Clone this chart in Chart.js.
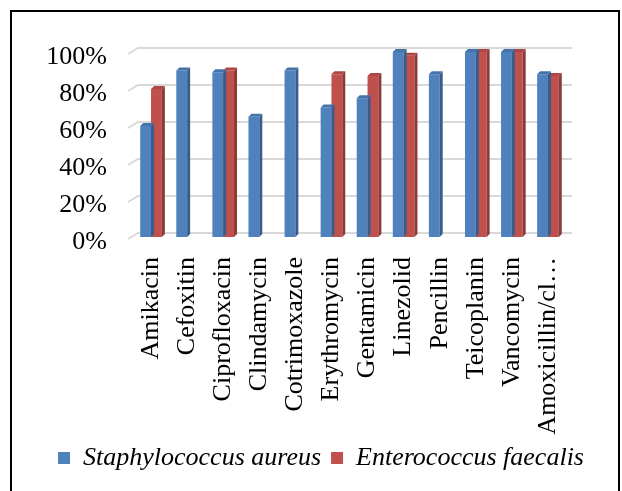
<!DOCTYPE html>
<html>
<head>
<meta charset="utf-8">
<script src="https://cdn.jsdelivr.net/npm/chart.js@4.4.1/dist/chart.umd.min.js"></script>
<style>
  html, body { margin: 0; padding: 0; background: #fff; }
  canvas { display: block; }
</style>
</head>
<body>
<canvas id="chart" width="622" height="491"></canvas>
<script>
// ================= DATA =================
const drugs = ["Amikacin", "Cefoxitin", "Ciprofloxacin", "Clindamycin", "Cotrimoxazole",
  "Erythromycin", "Gentamicin", "Linezolid", "Pencillin", "Teicoplanin", "Vancomycin",
  "Amoxicillin/cl…"];
const staphValues = [60, 90, 89, 65, 90, 70, 75, 100, 88, 100, 100, 88];
const enteroValues = [80, null, 90, null, null, 88, 87, 98, null, 100, 100, 87];
const yTicks = [0, 20, 40, 60, 80, 100];

const BLUE = "#4F81BD", RED = "#C0504D";
const faces = {
  0: { side: "#385D8A", top: "#4473AA" },
  1: { side: "#8C3A37", top: "#AE4743" }
};

// ================= 3D LOOK =================
// back wall gridlines with the little floor slant
const wallPlugin = {
  id: "wall",
  beforeDatasetsDraw(chart) {
    const { ctx, chartArea } = chart;
    const y = chart.scales.y;
    ctx.save();
    ctx.strokeStyle = "#D9D9D9";
    ctx.lineWidth = 2;
    yTicks.forEach(v => {
      const py = Math.round(y.getPixelForValue(v)) - 4;
      ctx.beginPath();
      ctx.moveTo(chartArea.left - 5, py + 6);
      ctx.lineTo(chartArea.left + 5, py);
      ctx.lineTo(chartArea.right + 6, py);
      ctx.stroke();
    });
    ctx.restore();
  }
};

// side + top faces for every bar, drawn right after its dataset
const depthPlugin = {
  id: "depth",
  afterDatasetDraw(chart, args) {
    const { ctx } = chart;
    const meta = args.meta;
    const c = faces[args.index];
    const dx = 3, dy = 3;
    ctx.save();
    meta.data.forEach((bar, i) => {
      if (chart.data.datasets[args.index].data[i] == null) return;
      const { x, y, base, width } = bar.getProps(["x", "y", "base", "width"], true);
      const l = x - width / 2, r = x + width / 2;
      ctx.fillStyle = c.side;
      ctx.beginPath();
      ctx.moveTo(r, y);
      ctx.lineTo(r + dx, y - dy);
      ctx.lineTo(r + dx, base - dy);
      ctx.lineTo(r, base);
      ctx.closePath();
      ctx.fill();
      ctx.fillStyle = c.top;
      ctx.beginPath();
      ctx.moveTo(l, y);
      ctx.lineTo(l + dx, y - dy);
      ctx.lineTo(r + dx, y - dy);
      ctx.lineTo(r, y);
      ctx.closePath();
      ctx.fill();
    });
    ctx.restore();
  }
};

const framePlugin = {
  id: "frame",
  afterDraw(chart) {
    const { ctx } = chart;
    ctx.save();
    ctx.strokeStyle = "#000";
    ctx.lineWidth = 2;
    ctx.strokeRect(11, 11, 608, 500);
    ctx.restore();
  }
};

// ================= CHART =================
const serif = "'Liberation Serif', 'Times New Roman', serif";

new Chart(document.getElementById("chart"), {
  type: "bar",
  data: {
    labels: drugs,
    datasets: [
      { label: "Staphylococcus aureus", data: staphValues, backgroundColor: BLUE, borderWidth: 0 },
      { label: "Enterococcus faecalis", data: enteroValues, backgroundColor: RED, borderWidth: 0 }
    ]
  },
  options: {
    responsive: false,
    animation: false,
    layout: { padding: { left: 20, right: 0, top: 52, bottom: 10 } },
    datasets: { bar: { categoryPercentage: 0.6, barPercentage: 1 } },
    plugins: {
      legend: {
        position: "bottom",
        labels: {
          color: "#000",
          boxWidth: 12,
          boxHeight: 12,
          padding: 10,
          font: { family: serif, size: 26, style: "italic" }
        }
      },
      tooltip: { enabled: false }
    },
    scales: {
      x: {
        grid: { display: false, drawTicks: false },
        border: { display: false },
        afterFit: s => { s.height = 198; },
        ticks: {
          color: "#000",
          font: { family: serif, size: 26 },
          minRotation: 90,
          maxRotation: 90,
          autoSkip: false,
          padding: 20
        }
      },
      y: {
        min: 0,
        max: 100,
        grid: { display: false, drawTicks: false },
        border: { display: false },
        afterFit: s => { s.width = 113; },
        ticks: {
          stepSize: 20,
          autoSkip: false,
          color: "#000",
          padding: 26,
          labelOffset: 5,
          font: { family: serif, size: 26 },
          callback: v => v + "%"
        }
      },
      y2: {
        position: "right",
        grid: { display: false, drawTicks: false },
        border: { display: false },
        ticks: { display: false },
        afterFit: s => { s.width = 56; }
      }
    }
  },
  plugins: [wallPlugin, depthPlugin, framePlugin]
});
</script>
</body>
</html>
